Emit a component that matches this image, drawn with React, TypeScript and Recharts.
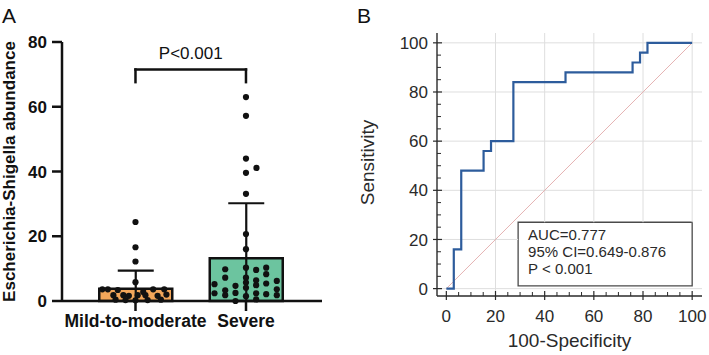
import React from 'react';
import {
  ComposedChart,
  Bar,
  Cell,
  ErrorBar,
  Scatter,
  XAxis,
  YAxis,
  ReferenceLine,
  ReferenceArea,
  Label,
  LineChart,
  Line,
} from 'recharts';

const FONT = '"Liberation Sans", Arial, Helvetica, sans-serif';

// ---------- Panel A: abundance by severity group ----------
const groups = ['Mild-to-moderate', 'Severe'];
const groupColors = ['#f2a65a', '#6cc49f'];
const groupMeans = [3.8, 13.2];
const groupSDs = [5.6, 17.0];
const yTicksA = [0, 20, 40, 60, 80];

// individual samples: value and horizontal spread inside the group column
const mildValues = [24.4, 16.6, 12.2, 5.8, 3.6, 3.6, 3.4, 3.6, 3.6, 1.8, 1.8, 1.6, 1.8, 1.8, 1.6, 2.0, 0.4, 0.3, 0.2, 0.3, 0.4, 2.8];
const mildSpread = [0, 0, 0, 0, -0.3, -0.25, -0.16, 0.16, 0.26, -0.2, -0.11, -0.06, 0.02, 0.09, 0.2, 0.28, -0.18, -0.09, 0, 0.11, 0.23, 0.07];

const severeValues = [
  63.0, 57.2, 44.0, 41.1, 39.6, 33.1, 20.7, 16.0,
  5.2, 2.4,
  9.8, 7.2, 3.3, 1.8,
  4.7, 2.5, 0,
  10.3, 7.2, 5.7, 4.1, 1.5,
  9.6, 6.4, 4.9, 2.4, 0.5,
  10.3, 8.3, 5.4, 2.1,
  6.2, 3.6, 1.8,
];
const severeSpread = [
  0, 0, 0, 0.095, 0, 0, 0, 0,
  -0.285, -0.285,
  -0.188, -0.188, -0.188, -0.188,
  -0.095, -0.095, -0.095,
  0, 0, 0, 0, 0,
  0.092, 0.092, 0.092, 0.092, 0.092,
  0.183, 0.183, 0.183, 0.183,
  0.279, 0.279, 0.279,
];

// ---------- Panel B: ROC curve ----------
const rocFpr = [0, 3.03, 6.06, 15.15, 18.18, 27.27, 48.48, 75.76, 78.79, 81.82, 100];
const rocSens = [0, 16, 48, 56, 60, 84, 88, 92, 96, 100, 100];
const axisTicksB = [0, 5, 10, 15, 20, 25, 30, 35, 40, 45, 50, 55, 60, 65, 70, 75, 80, 85, 90, 95, 100];
const gridRowsB = [0, 20, 40, 60, 80, 100];
const gridColsB = [20, 40, 60, 80, 100];
const statsLines = ['AUC=0.777', '95% CI=0.649-0.876', 'P < 0.001'];

const barData = groups.map((name, i) => ({
  name,
  mean: groupMeans[i],
  // whisker runs from the baseline up to mean + SD
  err: [groupMeans[i], groupSDs[i]],
}));
const mildPoints = mildValues.map((v, i) => ({ x: 0 + mildSpread[i], y: v }));
const severePoints = severeValues.map((v, i) => ({ x: 1 + severeSpread[i], y: v }));
const rocData = rocFpr.map((x, i) => ({ x, sens: rocSens[i] }));

const dotShape = (p: any) => <circle cx={p.cx} cy={p.cy} r={3.1} fill="#111" />;

const INK_B = '#2a2a2a';
const GRID_B = '#dedede';
const X_DOMAIN_B: [number, number] = [-3.8, 104];
const Y_DOMAIN_B: [number, number] = [-3, 104];
// statistics box, in axis units
const STATS_BOX = { x1: 29.2, x2: 100, y1: 1.1, y2: 27 };

// grid rows/columns, stopping where they meet the statistics box
const gridRowSegments = (v: number) => {
  const inside = v > STATS_BOX.y1 && v < STATS_BOX.y2;
  return [{ x: X_DOMAIN_B[0], y: v }, { x: inside ? STATS_BOX.x1 : X_DOMAIN_B[1], y: v }];
};
const gridColSegments = (v: number) => {
  const inside = v > STATS_BOX.x1 && v <= STATS_BOX.x2;
  return [{ x: v, y: inside ? STATS_BOX.y2 : Y_DOMAIN_B[0] }, { x: v, y: Y_DOMAIN_B[1] }];
};

const LeftTickB = (props: any) => {
  const { x, y, payload } = props;
  const v = payload.value;
  if (v % 20 === 0) {
    return (
      <g>
        <line x1={x - 4} x2={x + 5} y1={y} y2={y} stroke={INK_B} strokeWidth={1.2} />
        <text x={x - 9} y={y} dy="0.36em" textAnchor="end" fontSize={17} fontFamily={FONT} fill={INK_B}>
          {v}
        </text>
      </g>
    );
  }
  return <line x1={x} x2={x + 4} y1={y} y2={y} stroke={INK_B} strokeWidth={1} />;
};

const BottomTickB = (props: any) => {
  const { x, y, payload } = props;
  const v = payload.value;
  if (v % 20 === 0) {
    return (
      <g>
        <line x1={x} x2={x} y1={y - 5} y2={y + 4} stroke={INK_B} strokeWidth={1.2} />
        <text x={x} y={y + 26} textAnchor="middle" fontSize={17} fontFamily={FONT} fill={INK_B}>
          {v}
        </text>
      </g>
    );
  }
  return <line x1={x} x2={x} y1={y - 4} y2={y} stroke={INK_B} strokeWidth={1} />;
};

function PanelA() {
  const bracketTop = 71.5;
  const bracketFoot = 67.6;
  const black = '#111';
  return (
    <ComposedChart
      width={345}
      height={355}
      data={barData}
      margin={{ top: 42, right: 23, bottom: 14, left: 12 }}
    >
      <XAxis
        xAxisId="cat"
        type="category"
        dataKey="name"
        padding={{ left: 18.25, right: 20.75 }}
        interval={0}
        height={40}
        tickSize={10}
        tickMargin={4}
        axisLine={{ stroke: black, strokeWidth: 2.5 }}
        tickLine={{ stroke: black, strokeWidth: 2.5 }}
        tick={{ fontSize: 17.5, fontWeight: 'bold', fill: black, fontFamily: FONT }}
      />
      {/* continuous twin of the category axis, used to spread the sample dots */}
      <XAxis
        xAxisId="spread"
        type="number"
        dataKey="x"
        domain={[-0.665, 1.688]}
        allowDataOverflow
        hide
      />
      <YAxis
        type="number"
        domain={[0, 80]}
        ticks={yTicksA}
        interval={0}
        width={50}
        tickSize={10}
        tickMargin={5}
        axisLine={{ stroke: black, strokeWidth: 2.5 }}
        tickLine={{ stroke: black, strokeWidth: 2.5 }}
        tick={{ fontSize: 17, fontWeight: 'bold', fill: black, fontFamily: FONT }}
      >
        <Label
          content={(p: any) => {
            const vb = p.viewBox;
            const cy = vb.y + vb.height / 2;
            return (
              <text
                x={9}
                y={cy}
                transform={`rotate(-90, 9, ${cy})`}
                textAnchor="middle"
                dominantBaseline="central"
                fontSize={17}
                fontWeight="bold"
                fontFamily={FONT}
                fill={black}
              >
                Escherichia-Shigella abundance
              </text>
            );
          }}
        />
      </YAxis>
      <Bar
        xAxisId="cat"
        dataKey="mean"
        barSize={73}
        stroke={black}
        strokeWidth={2.5}
        isAnimationActive={false}
      >
        {barData.map((d, i) => (
          <Cell key={d.name} fill={groupColors[i]} />
        ))}
        <ErrorBar dataKey="err" direction="y" width={18} stroke={black} strokeWidth={2.2} />
      </Bar>
      <Scatter xAxisId="spread" data={mildPoints} dataKey="y" shape={dotShape} isAnimationActive={false} />
      <Scatter xAxisId="spread" data={severePoints} dataKey="y" shape={dotShape} isAnimationActive={false} />
      <ReferenceLine
        xAxisId="spread"
        segment={[{ x: 0, y: bracketFoot }, { x: 0, y: bracketTop }]}
        stroke={black}
        strokeWidth={2.5}
        strokeLinecap="square"
      />
      <ReferenceLine
        xAxisId="spread"
        segment={[{ x: 1, y: bracketFoot }, { x: 1, y: bracketTop }]}
        stroke={black}
        strokeWidth={2.5}
        strokeLinecap="square"
      />
      <ReferenceLine
        xAxisId="spread"
        segment={[{ x: 0, y: bracketTop }, { x: 1, y: bracketTop }]}
        stroke={black}
        strokeWidth={2.5}
        strokeLinecap="square"
      >
        <Label
          content={(p: any) => {
            const vb = p.viewBox;
            return (
              <text
                x={vb.x + vb.width / 2}
                y={vb.y - 11}
                textAnchor="middle"
                fontSize={17}
                fontFamily={FONT}
                fill={black}
              >
                P&lt;0.001
              </text>
            );
          }}
        />
      </ReferenceLine>
    </ComposedChart>
  );
}

function PanelB() {
  return (
    <LineChart
      width={364}
      height={355}
      data={rocData}
      margin={{ top: 33, right: 7, bottom: 19, left: 42 }}
    >
      <XAxis
        type="number"
        dataKey="x"
        domain={X_DOMAIN_B}
        allowDataOverflow
        ticks={axisTicksB}
        interval={0}
        height={40}
        tickSize={0}
        tickMargin={0}
        tickLine={false}
        axisLine={{ stroke: INK_B, strokeWidth: 1.4 }}
        tick={(p: any) => <BottomTickB {...p} />}
      >
        <Label
          content={(p: any) => {
            const vb = p.viewBox;
            return (
              <text
                x={vb.x + vb.width / 2}
                y={vb.y + 51}
                textAnchor="middle"
                fontSize={19}
                fontFamily={FONT}
                fill={INK_B}
              >
                100-Specificity
              </text>
            );
          }}
        />
      </XAxis>
      <YAxis
        type="number"
        domain={Y_DOMAIN_B}
        allowDataOverflow
        ticks={axisTicksB}
        interval={0}
        width={50}
        tickSize={0}
        tickMargin={0}
        tickLine={false}
        axisLine={{ stroke: INK_B, strokeWidth: 1.4 }}
        tick={(p: any) => <LeftTickB {...p} />}
      >
        <Label
          content={(p: any) => {
            const vb = p.viewBox;
            const cx = vb.x - 20;
            const cy = vb.y + vb.height / 2 - 2;
            return (
              <text
                x={cx}
                y={cy}
                transform={`rotate(-90, ${cx}, ${cy})`}
                textAnchor="middle"
                dominantBaseline="central"
                fontSize={19}
                fontFamily={FONT}
                fill={INK_B}
              >
                Sensitivity
              </text>
            );
          }}
        />
      </YAxis>
      {gridRowsB.map((v) => (
        <ReferenceLine
          key={`row-${v}`}
          segment={gridRowSegments(v)}
          ifOverflow="visible"
          stroke={GRID_B}
          strokeWidth={1}
        />
      ))}
      {gridColsB.map((v) => (
        <ReferenceLine
          key={`col-${v}`}
          segment={gridColSegments(v)}
          ifOverflow="visible"
          stroke={GRID_B}
          strokeWidth={1}
        />
      ))}
      <ReferenceLine
        segment={[{ x: 0, y: 0 }, { x: 100, y: 100 }]}
        stroke="#e5b3b3"
        strokeWidth={1}
      />
      <ReferenceArea
        x1={STATS_BOX.x1}
        x2={STATS_BOX.x2}
        y1={STATS_BOX.y1}
        y2={STATS_BOX.y2}
        fill="#ffffff"
        fillOpacity={1}
        stroke="#4a4a4a"
        strokeWidth={1.3}
        label={(p: any) => {
          const vb = p.viewBox;
          return (
            <g>
              {statsLines.map((s, i) => (
                <text
                  key={s}
                  x={vb.x + 10}
                  y={vb.y + 18 + i * 17}
                  fontSize={15}
                  fontFamily={FONT}
                  fill={INK_B}
                >
                  {s}
                </text>
              ))}
            </g>
          );
        }}
      />
      <Line
        type="stepAfter"
        dataKey="sens"
        stroke="#2d5c9c"
        strokeWidth={2.2}
        dot={false}
        activeDot={false}
        isAnimationActive={false}
      />
    </LineChart>
  );
}

export default function App() {
  return (
    <div style={{ position: 'absolute', left: 0, top: 0, width: 709, height: 355, background: '#fff' }}>
      <div style={{ position: 'absolute', left: 0, top: 0 }}>
        <PanelA />
      </div>
      <div style={{ position: 'absolute', left: 345, top: 0 }}>
        <PanelB />
      </div>
      <svg
        width={709}
        height={40}
        style={{ position: 'absolute', left: 0, top: 0, pointerEvents: 'none' }}
      >
        <text x={2} y={23} fontSize={21} fontFamily={FONT} fill="#111">A</text>
        <text x={357} y={23} fontSize={21} fontFamily={FONT} fill="#111">B</text>
      </svg>
    </div>
  );
}
